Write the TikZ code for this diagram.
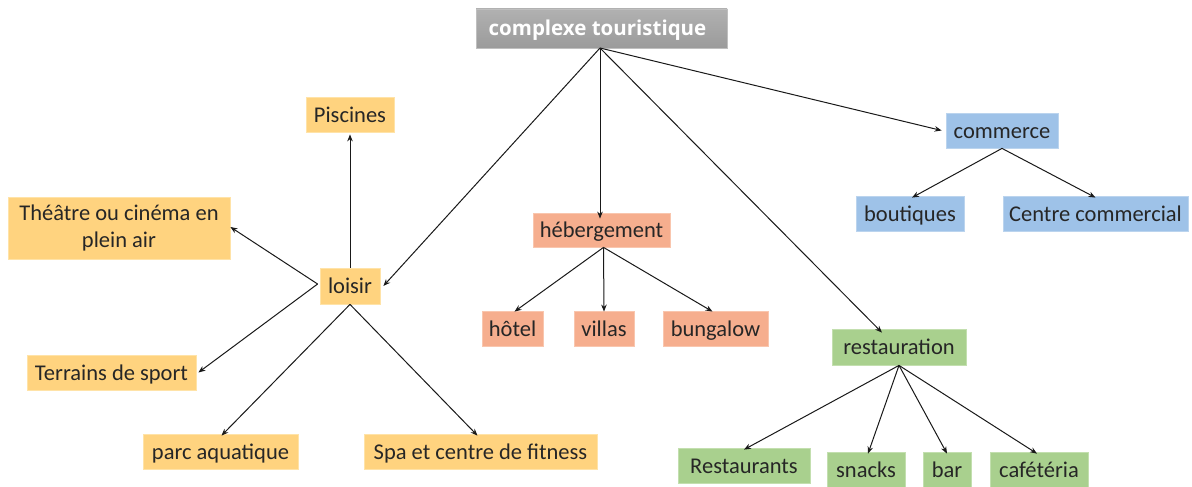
\documentclass[tikz,border=0pt]{standalone}
\usepackage{fontspec}
\setmainfont{Carlito}
\newfontfamily\titlefont{Open Sans}
\usetikzlibrary{arrows.meta}
\definecolor{yel}{HTML}{FFD37F}
\definecolor{yelb}{HTML}{FFE3A8}
\definecolor{sal}{HTML}{F6AE8E}
\definecolor{salb}{HTML}{F9C6AE}
\definecolor{blu}{HTML}{9EC2E8}
\definecolor{blub}{HTML}{BBD4EE}
\definecolor{grn}{HTML}{A9D08E}
\definecolor{grnb}{HTML}{C3DFAF}
\definecolor{gry}{HTML}{A3A3A3}
\tikzset{
  box/.style={draw, line width=0.8pt, inner sep=0pt, font=\fontsize{22.5}{27}\selectfont, text=black!85, text height=16pt, text depth=1pt},
  ybox/.style={box, fill=yel, draw=yelb},
  sbox/.style={box, fill=sal, draw=salb},
  bbox/.style={box, fill=blu, draw=blub},
  gbox/.style={box, fill=grn, draw=grnb},
  conn/.style={line width=1pt, draw=black!90, -{Stealth[length=7pt,width=5.5pt]}},
}
\begin{document}
\begin{tikzpicture}[x=1pt,y=-1pt]
\useasboundingbox (0,0) rectangle (1192,487);
\fill[white] (0,0) rectangle (1192,487);
% title
\node[inner sep=0pt, minimum width=251pt, minimum height=39pt, top color=gry!85!white, bottom color=gry!95!black, draw=gry!70!white, line width=0.8pt,
  font=\titlefont\bfseries\fontsize{20.5}{24}\selectfont, text=white, text height=15pt, text depth=1pt] (top) at (601.5,28.5) {\hspace*{-8pt}complexe touristique};
% loisir group
\node[ybox, minimum width=88pt, minimum height=35pt] (pisc) at (350,114.5) {Piscines};
\node[ybox, minimum width=222pt, minimum height=62pt, align=center, font=\fontsize{22.5}{28}\selectfont, text height={}, text depth={}] (theatre) at (119,228) {Théâtre ou cinéma en\\plein air};
\node[ybox, minimum width=60pt, minimum height=36pt] (loisir) at (350,286) {loisir};
\node[ybox, minimum width=169pt, minimum height=35pt] (terr) at (111.5,372.5) {Terrains de sport};
\node[ybox, minimum width=155pt, minimum height=35pt] (parc) at (220.5,451.5) {parc aquatique};
\node[ybox, minimum width=233pt, minimum height=35pt] (spa) at (480.5,451.5) {Spa et centre de fitness};
% hebergement
\node[sbox, minimum width=137pt, minimum height=34pt] (heb) at (601.5,230) {hébergement};
\node[sbox, minimum width=61pt, minimum height=35pt] (hotel) at (512.5,328.5) {hôtel};
\node[sbox, minimum width=60pt, minimum height=35pt] (villas) at (604,328.5) {villas};
\node[sbox, minimum width=105pt, minimum height=35pt] (bung) at (715.5,328.5) {bungalow};
% commerce
\node[bbox, minimum width=112pt, minimum height=35pt] (comm) at (1002,130.5) {commerce};
\node[bbox, minimum width=108pt, minimum height=35pt] (bout) at (910,213.5) {boutiques};
\node[bbox, minimum width=185pt, minimum height=35pt] (centre) at (1095.5,213.5) {Centre commercial};
% restauration
\node[gbox, minimum width=134pt, minimum height=36pt] (rest) at (899,347) {restauration};
\node[gbox, minimum width=132pt, minimum height=35pt] (rants) at (744,465.5) {Restaurants};
\node[gbox, minimum width=78pt, minimum height=35pt] (snacks) at (866,469.5) {snacks};
\node[gbox, minimum width=48pt, minimum height=35pt] (bar) at (947,469.5) {bar};
\node[gbox, minimum width=98pt, minimum height=35pt] (cafe) at (1039,469.5) {cafétéria};
% connectors from top
\coordinate (tops) at (600,48);
\draw[conn] (tops) -- ([xshift=3pt]loisir.east);
\draw[conn] (tops) -- ([yshift=-6pt]heb.north -| tops);
\draw[conn] (tops) -- ([xshift=-17pt,yshift=-4pt]rest.north);
\draw[conn] (tops) -- ([xshift=-4pt]comm.west);
% loisir
\draw[conn] (loisir.north) -- ([yshift=-2pt]pisc.south);
\coordinate (lw) at ([xshift=-2pt,yshift=2pt]loisir.west);
\draw[conn] (lw) -- ([yshift=1pt]theatre.east);
\draw[conn] (lw) -- ([xshift=2pt]terr.east);
\draw[conn] (loisir.south) -- ([xshift=1pt,yshift=-2pt]parc.north);
\draw[conn] (loisir.south) -- ([xshift=-3pt,yshift=-2pt]spa.north);
% hebergement
\coordinate (hs) at ([xshift=2pt]heb.south);
\draw[conn] (hs) -- ([xshift=2pt,yshift=-1pt]hotel.north);
\draw[conn] (hs) -- ([yshift=-1pt]villas.north);
\draw[conn] (hs) -- ([xshift=-3pt,yshift=-1pt]bung.north);
% commerce
\draw[conn] (comm.south) -- ([xshift=2pt,yshift=-2pt]bout.north);
\draw[conn] (comm.south) -- ([yshift=-2pt]centre.north);
% restauration
\draw[conn] (rest.south) -- ([yshift=-2pt]rants.north);
\draw[conn] (rest.south) -- ([xshift=2pt,yshift=-2pt]snacks.north);
\draw[conn] (rest.south) -- ([yshift=-2pt]bar.north);
\draw[conn] (rest.south) -- ([xshift=-2pt,yshift=-2pt]cafe.north);
\end{tikzpicture}
\end{document}
